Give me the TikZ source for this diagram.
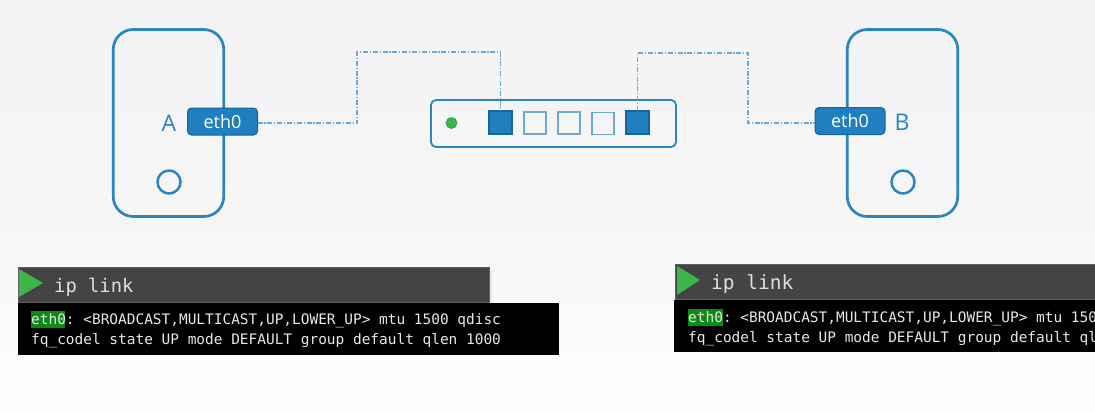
\documentclass[tikz,border=0pt]{standalone}
\usepackage{fontspec}
\setmainfont{Open Sans}
\setmonofont{DejaVu Sans Mono}
\definecolor{bluemain}{HTML}{2A86C3}
\definecolor{bluefill}{HTML}{1F7FBF}
\definecolor{bluedark}{HTML}{17659C}
\definecolor{bluelight}{HTML}{6FA9CE}
\definecolor{wirecol}{HTML}{6DA9D6}
\definecolor{hdr}{HTML}{444444}
\definecolor{playg}{HTML}{3CB54A}
\definecolor{hl}{HTML}{0E8A12}
\definecolor{txt}{HTML}{E8E8E8}
\definecolor{bgtop}{HTML}{F3F3F5}
\definecolor{bgmid}{HTML}{F6F6F7}
\definecolor{bgbot}{HTML}{FEFEFE}
\tikzset{
 x=1pt,y=-1pt,
 box/.style={draw,rectangle,inner sep=0pt,outer sep=0pt,anchor=center},
 hostbox/.style={box,draw=bluemain,line width=2.7pt,rounded corners=20pt,minimum width=110.5pt,minimum height=187pt},
 ethbox/.style={box,draw=bluedark,line width=1pt,fill=bluefill,rounded corners=4pt,minimum width=70pt,minimum height=27pt,text=white,font=\fontsize{18}{20}\selectfont},
 hostlabel/.style={inner sep=0pt,text=bluemain,font=\fontsize{23}{26}\selectfont},
 hostcirc/.style={draw=bluemain,circle,line width=2.5pt,minimum size=23pt,inner sep=0pt},
 switchbox/.style={box,draw=bluemain,line width=1.8pt,rounded corners=5pt,minimum width=245pt,minimum height=47pt},
 portfull/.style={box,draw=bluedark,line width=1.1pt,fill=bluefill,minimum size=23pt},
 portempty/.style={box,draw=bluelight,line width=1.1pt,minimum size=22pt},
 led/.style={circle,draw=playg!80!black,fill=playg,line width=.6pt,minimum size=11pt,inner sep=0pt},
 wire/.style={draw=wirecol,line width=1.2pt,dash pattern=on 5pt off 1.8pt on 1.2pt off 1.8pt},
 hdrbox/.style={rectangle,fill=hdr,draw=gray!75!black,line width=.4pt,inner sep=0pt,outer sep=0pt},
 bodybox/.style={rectangle,fill=black,inner sep=0pt,outer sep=0pt},
 play/.style={fill=playg},
 cmdtext/.style={anchor=base west,inner sep=0pt,text=txt!90!gray,font=\ttfamily\fontsize{18.8}{20}\selectfont},
 termtext/.style={anchor=base west,inner sep=0pt,text=txt,font=\ttfamily\fontsize{14.45}{16}\selectfont},
 hlbox/.style={rectangle,fill=hl,inner sep=0pt,outer sep=0pt},
}
\begin{document}
\begin{tikzpicture}
\useasboundingbox (0,0) rectangle (1095,412);
\clip (0,0) rectangle (1095,412);
\fill[top color=bgtop,bottom color=bgmid] (0,0) rectangle (1095,220);
\fill[top color=bgmid,bottom color=bgbot] (0,220) rectangle (1095,412);

% hosts
\node[hostbox] (hostA) at (168.5,123) {};
\node[hostbox] (hostB) at (902.5,123) {};
\node[hostcirc] (circA) at (169,182) {};
\node[hostcirc] (circB) at (903,182) {};
\node[hostlabel] (labA) at (169,123) {A};
\node[hostlabel] (labB) at (902,122) {B};

% switch
\node[switchbox] (sw) at (553.5,123.5) {};
\node[led] (ledg) at (451.5,123) {};
\node[portfull] (p1) at (500.5,122.5) {};
\node[portempty] (p2) at (535,123) {};
\node[portempty] (p3) at (569,123) {};
\node[portempty] (p4) at (603,123.5) {};
\node[portfull] (p5) at (637.5,122.5) {};

% interfaces
\node[ethbox] (ethA) at (222.5,121.5) {eth0};
\node[ethbox] (ethB) at (850,121) {eth0};

% connectors
\coordinate (a1) at (357,123);
\coordinate (a2) at (357,52);
\coordinate (a3) at (p1.north |- a2);
\coordinate (a0) at (ethA.east |- a1);
\draw[wire] (a0) -- (a1) -- (a2) -- (a3) -- (p1.north);
\coordinate (b2) at (748,53);
\coordinate (b1) at (748,123);
\coordinate (b3) at (p5.north |- b2);
\coordinate (b0) at (ethB.west |- b1);
\draw[wire] (p5.north) -- (b3) -- (b2) -- (b1) -- (b0);

% left terminal
\fill[black!12,opacity=.6] (21,270) rectangle (492,305);
\node[hdrbox,minimum width=471pt,minimum height=35pt] (hdrA) at (253.5,284.5) {};
\node[bodybox,minimum width=541pt,minimum height=52pt] (bodyA) at (288,328.5) {};
\fill[play] (19,269) -- (43,283) -- (19,297) -- cycle;
\node[cmdtext] (cmdA) at (54,292) {ip link};
\node[hlbox,minimum width=34pt,minimum height=17pt] (hlA) at (48,319.5) {};
\node[termtext] (l1A) at (31,324) {eth0: <BROADCAST,MULTICAST,UP,LOWER\_UP> mtu 1500 qdisc};
\node[termtext] (l2A) at (31,344) {fq\_codel state UP mode DEFAULT group default qlen 1000};

% right terminal
\node[hdrbox,minimum width=425pt,minimum height=35pt] (hdrB) at (887.5,281.5) {};
\node[bodybox,minimum width=425pt,minimum height=52pt] (bodyB) at (886.5,326) {};
\fill[play] (677,266) -- (700,280) -- (677,295) -- cycle;
\node[cmdtext,font=\ttfamily\fontsize{19.5}{21}\selectfont] (cmdB) at (711,289) {ip link};
\node[hlbox,minimum width=35pt,minimum height=17pt] (hlB) at (705,317) {};
\node[termtext] (l1B) at (688,322) {eth0: <BROADCAST,MULTICAST,UP,LOWER\_UP> mtu 150};
\node[termtext] (l2B) at (688,342) {fq\_codel state UP mode DEFAULT group default ql};
\end{tikzpicture}
\end{document}
